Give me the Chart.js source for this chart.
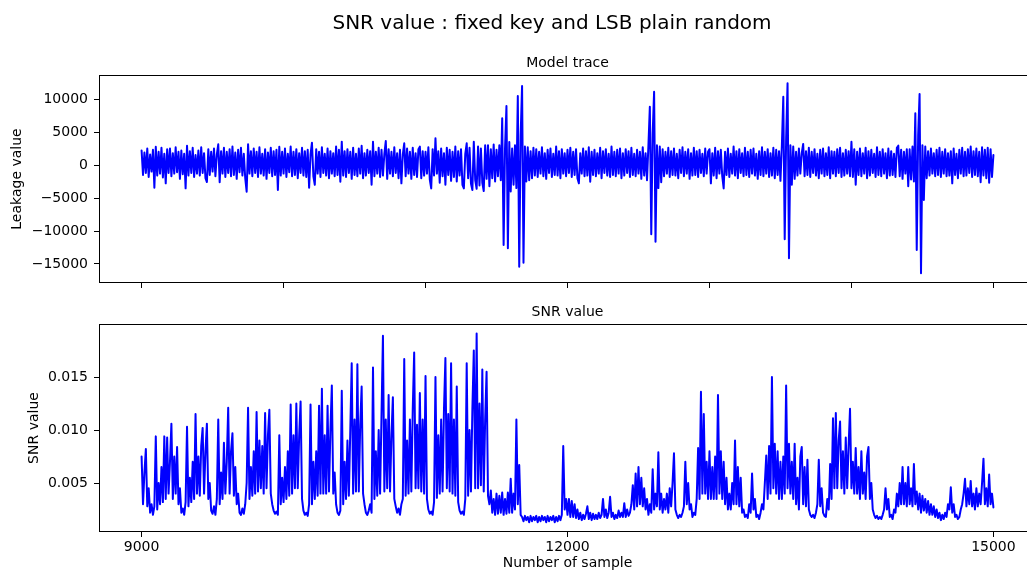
<!DOCTYPE html>
<html>
<head>
<meta charset="utf-8">
<script src="https://cdn.jsdelivr.net/npm/chart.js@4.4.1/dist/chart.umd.min.js"></script>
<style>
  html, body { margin: 0; background: #fff; overflow: hidden; width: 1027px; height: 572px; }
  .panel { position: absolute; left: 0; }
</style>
</head>
<body>
<div class="panel" style="top:0"><canvas id="trace" width="1104" height="300"></canvas></div>
<div class="panel" style="top:300px"><canvas id="snr" width="1104" height="272"></canvas></div>
<script>
// one value every 10 samples, 9000 .. 15000 (rows of 20 = 200 samples)
const sampleAxis = Array.from({ length: 601 }, (_, i) => 9000 + i * 10)

const leakage = [
  2200, -1500, 1900, -1200, 2500, -1800, 1600, -1000, 2300, -3440, 2770, -1600, 2000, -1300, 2600, -1900, 1700, -2780, 2400, -1200,
  2500, -1700, 1800, -1300, 2700, -1100, 2000, -2100, 2200, -1400, 1700, -3540, 2920, -1600, 2100, -1200, 2600, -1800, 1500, -1300,
  2200, -1600, 2700, -1200, 1800, -2000, -2580, 2400, -1500, 2000, -1000, 2500, -1700, 1600, 3130, -2600, 2100, -1300, 2600, -1800,
  2000, -1200, 2400, -1700, 2800, -1500, 1900, -2100, 2300, -1100, 2600, -1600, 1700, -2000, -4040, 3130, -1300, 2100, -1700, 2500,
  -1200, 2000, -1800, 2700, -1300, 1700, -1600, 2400, -2100, 1900, -1200, 2600, -1700, 2100, -1500, 2300, -3790, 2770, -1600, 2000,
  -1300, 2500, -1800, 1700, -1100, 2800, -1700, 2000, -1500, 2400, -2000, 1800, -1200, 2600, -1600, 2100, -1800, 2300, -3440, 1600,
  3380, -1700, -3000, 2400, -1300, 2000, -1800, 2700, -1200, 1700, -1600, 2500, -2000, 2100, -1300, 1800, -1700, 2800, -1500, 2300,
  -2520, 3540, -1600, 2100, -1800, 2400, -1200, 2000, -2100, 2600, -1500, 1700, -1700, 2500, -1300, 2900, -2000, 1800, -1600, 2300,
  -1200, 2100, -3000, 3530, -1700, 2000, -1300, 2600, -1800, 2300, -1600, 1700, 3640, -2100, 2400, -1300, 2000, -1700, 2700, -1200,
  1800, -2000, 2300, -2780, 1600, 3280, -1700, 2500, -1300, 2000, -2100, 2600, -1500, 1800, -1800, 2400, 2780, -2000, 2100, -1600,
  2000, -1300, 2700, -2200, -3540, 2400, -1600, 4040, -1300, 2100, -2700, 2500, -1700, 1800, -3000, 2600, -1500, 2300, -2400, 2000,
  -1800, 2800, -2500, 2100, -1600, 2400, -3000, -3540, 1700, 3280, -2000, 2600, -2800, -3790, 3530, -2300, -3600, 2800, -3100, 2500,
  -2700, -3940, 3000, -2100, 3000, -3200, 2400, -2000, 3100, -2500, 2300, -1700, 3000, -2300, 7070, -12120, 2600, 8940, -12620, 3500,
  -4000, 2500, -3000, 3000, -3500, 10450, -15400, 4500, 11970, -14800, 2800, -2500, 2700, -2300, 2100, -2000, 2600, -1600, 2400, -1800,
  2000, -1300, 2700, -1700, 1800, -2100, 2300, -1200, 2500, -1800, 1700, -1500, 2800, -1600, 2100, -2000, 2400, -1300, 1800, -1700,
  2300, -1200, 2600, -1800, 2000, -1500, 2400, -2000, -2780, 1800, -1300, 2500, -1700, 2100, -1600, 2700, -2530, 2000, -1500, 2300,
  -1700, 1800, -1300, 2600, -2000, 2100, -1200, 2400, -1600, 1700, -1800, 2800, -1500, 2000, -1700, 2300, -1300, 2500, -2000, 1800,
  -1600, 2400, -1200, 2100, -1800, 2600, -1500, 1700, -1700, 2300, -1300, 2000, -2100, 2700, -1600, 1800, -2300, 3000, 8840, -10500,
  4800, 11100, -11620, 3000, -3500, 2800, -2600, 2400, -1700, 2000, -1300, 2600, -1800, 2100, -1500, 2500, -1600, 1700, -2000, 2300,
  -1200, 2700, -1700, 2000, -1300, 2400, -2100, 1800, -1600, 2600, -1500, 2100, -1800, 2300, -1200, 1700, -1700, 2500, -1300, 2000,
  2400, -2780, 1800, -1600, 2600, -2000, 2100, -1300, 2300, -1700, -3540, 2000, -1500, 2500, -1800, 1700, -1300, 2800, -1600, 2100,
  -2000, 2400, -1200, 1800, -1700, 2600, -1500, 2000, -1800, 2300, -1300, 2500, -1600, 1700, -2100, 2100, -1500, 2700, -1700, 2000,
  -1300, 2400, -1800, 1800, -1600, 2600, -2000, 2300, -1500, 2100, -2400, 3000, 10350, -11260, 4000, 12380, -14140, 3000, -3000, 2800,
  -2100, 2000, -1600, 2500, -1300, 1800, 3200, -1700, 2100, -1500, 2600, -1800, 2000, -1200, 2400, -1600, 1700, -2000, 2300, -1300,
  2500, -1700, 1800, -1500, 2700, -2000, 2100, -1300, 2000, -1700, 2400, -1200, 2600, -1800, 1800, -1600, 2300, -1300, 2100, -1700,
  3530, -1800, 2400, -3000, 2000, -1500, 2500, -1700, 1800, -1300, 2600, -2000, 2100, -1600, 2300, -1200, 1700, -1800, 2700, -1500,
  2000, -1700, 2400, -1300, 1800, -2000, 2500, -1600, 2100, -1500, 1700, -1800, 2600, 2930, -1700, 2300, -2100, 2000, -1300, 2400,
  -3200, 2400, -2200, 2800, -2500, 7830, -12880, 4500, 10760, -16400, 3000, -5300, 2800, -2000, 2100, -1600, 2500, -1300, 1800, -1700,
  2300, -1500, 2600, -1800, 2000, -1300, 2400, -1700, 1800, -1600, 2100, -2780, 2500, -1500, 1700, -2000, 2300, -1300, 2600, -1700,
  2000, -1600, 2400, -1200, 2800, -1800, 2100, -1500, 2500, -1700, 2000, -2600, 2700, -1600, 2300, -2000, 2600, -2700, 2400, -1800,
  1500,
]

const snr = [
  0.0075, 0.0030, 0.0060, 0.0082, 0.0028, 0.0045, 0.0022, 0.0030, 0.0020, 0.0028, 0.0094, 0.0025, 0.0050, 0.0030, 0.0065, 0.0032, 0.0094, 0.0035, 0.0093, 0.0040,
  0.0070, 0.0106, 0.0035, 0.0075, 0.0040, 0.0084, 0.0030, 0.0045, 0.0022, 0.0026, 0.0020, 0.0032, 0.0103, 0.0028, 0.0055, 0.0032, 0.0070, 0.0035, 0.0115, 0.0040,
  0.0075, 0.0038, 0.0085, 0.0102, 0.0040, 0.0080, 0.0106, 0.0035, 0.0050, 0.0024, 0.0021, 0.0028, 0.0020, 0.0035, 0.0110, 0.0030, 0.0060, 0.0035, 0.0088, 0.0040,
  0.0070, 0.0121, 0.0040, 0.0080, 0.0097, 0.0038, 0.0065, 0.0030, 0.0040, 0.0022, 0.0020, 0.0026, 0.0021, 0.0030, 0.0050, 0.0121, 0.0035, 0.0065, 0.0038, 0.0080,
  0.0040, 0.0117, 0.0042, 0.0090, 0.0045, 0.0085, 0.0040, 0.0116, 0.0045, 0.0095, 0.0119, 0.0040, 0.0030, 0.0024, 0.0021, 0.0023, 0.0020, 0.0095, 0.0030, 0.0055,
  0.0032, 0.0065, 0.0035, 0.0080, 0.0038, 0.0124, 0.0040, 0.0095, 0.0045, 0.0125, 0.0045, 0.0095, 0.0127, 0.0035, 0.0024, 0.0020, 0.0022, 0.0019, 0.0030, 0.0124,
  0.0030, 0.0070, 0.0035, 0.0080, 0.0038, 0.0123, 0.0040, 0.0139, 0.0040, 0.0095, 0.0040, 0.0123, 0.0042, 0.0100, 0.0142, 0.0040, 0.0060, 0.0030, 0.0022, 0.0020,
  0.0024, 0.0137, 0.0030, 0.0070, 0.0035, 0.0090, 0.0038, 0.0100, 0.0163, 0.0040, 0.0110, 0.0042, 0.0162, 0.0042, 0.0105, 0.0141, 0.0040, 0.0030, 0.0022, 0.0020,
  0.0024, 0.0030, 0.0022, 0.0159, 0.0035, 0.0080, 0.0038, 0.0100, 0.0040, 0.0115, 0.0189, 0.0042, 0.0110, 0.0045, 0.0133, 0.0042, 0.0095, 0.0131, 0.0035, 0.0028,
  0.0022, 0.0026, 0.0020, 0.0030, 0.0035, 0.0167, 0.0038, 0.0090, 0.0040, 0.0110, 0.0042, 0.0120, 0.0173, 0.0045, 0.0105, 0.0045, 0.0135, 0.0042, 0.0110, 0.0040,
  0.0151, 0.0035, 0.0025, 0.0021, 0.0023, 0.0020, 0.0032, 0.0150, 0.0036, 0.0095, 0.0040, 0.0110, 0.0042, 0.0120, 0.0168, 0.0045, 0.0115, 0.0042, 0.0163, 0.0040,
  0.0110, 0.0038, 0.0141, 0.0032, 0.0024, 0.0021, 0.0023, 0.0020, 0.0035, 0.0163, 0.0038, 0.0100, 0.0042, 0.0120, 0.0175, 0.0045, 0.0191, 0.0045, 0.0125, 0.0048,
  0.0157, 0.0042, 0.0110, 0.0155, 0.0038, 0.0030, 0.0043, 0.0022, 0.0035, 0.0020, 0.0040, 0.0021, 0.0038, 0.0022, 0.0041, 0.0020, 0.0035, 0.0021, 0.0041, 0.0022,
  0.0054, 0.0022, 0.0040, 0.0025, 0.0110, 0.0030, 0.0067, 0.0020, 0.0018, 0.0014, 0.0019, 0.0015, 0.0018, 0.0013, 0.0019, 0.0014, 0.0018, 0.0015, 0.0019, 0.0013,
  0.0018, 0.0014, 0.0019, 0.0015, 0.0018, 0.0013, 0.0019, 0.0014, 0.0018, 0.0015, 0.0019, 0.0013, 0.0018, 0.0014, 0.0019, 0.0015, 0.0020, 0.0085, 0.0025, 0.0035,
  0.0020, 0.0035, 0.0018, 0.0033, 0.0018, 0.0030, 0.0017, 0.0025, 0.0016, 0.0022, 0.0015, 0.0020, 0.0016, 0.0021, 0.0028, 0.0016, 0.0022, 0.0015, 0.0021, 0.0016,
  0.0020, 0.0016, 0.0022, 0.0017, 0.0020, 0.0035, 0.0018, 0.0025, 0.0017, 0.0022, 0.0037, 0.0018, 0.0022, 0.0016, 0.0020, 0.0017, 0.0024, 0.0018, 0.0022, 0.0018,
  0.0031, 0.0018, 0.0025, 0.0019, 0.0022, 0.0030, 0.0048, 0.0025, 0.0059, 0.0028, 0.0065, 0.0030, 0.0055, 0.0028, 0.0045, 0.0025, 0.0035, 0.0020, 0.0030, 0.0022,
  0.0063, 0.0025, 0.0040, 0.0028, 0.0079, 0.0025, 0.0040, 0.0022, 0.0035, 0.0025, 0.0040, 0.0022, 0.0045, 0.0028, 0.0050, 0.0078, 0.0025, 0.0020, 0.0017, 0.0020,
  0.0018, 0.0022, 0.0028, 0.0070, 0.0030, 0.0050, 0.0025, 0.0030, 0.0018, 0.0022, 0.0020, 0.0035, 0.0083, 0.0035, 0.0136, 0.0040, 0.0115, 0.0040, 0.0070, 0.0035,
  0.0080, 0.0035, 0.0065, 0.0035, 0.0075, 0.0035, 0.0133, 0.0040, 0.0080, 0.0035, 0.0070, 0.0030, 0.0055, 0.0025, 0.0040, 0.0025, 0.0050, 0.0030, 0.0090, 0.0030,
  0.0065, 0.0028, 0.0055, 0.0022, 0.0025, 0.0018, 0.0020, 0.0017, 0.0030, 0.0022, 0.0059, 0.0025, 0.0035, 0.0018, 0.0020, 0.0016, 0.0022, 0.0030, 0.0025, 0.0050,
  0.0076, 0.0035, 0.0085, 0.0040, 0.0150, 0.0045, 0.0087, 0.0040, 0.0080, 0.0035, 0.0070, 0.0035, 0.0075, 0.0040, 0.0142, 0.0045, 0.0087, 0.0040, 0.0070, 0.0035,
  0.0087, 0.0030, 0.0055, 0.0025, 0.0075, 0.0084, 0.0030, 0.0065, 0.0028, 0.0072, 0.0025, 0.0020, 0.0018, 0.0020, 0.0017, 0.0022, 0.0030, 0.0072, 0.0028, 0.0045,
  0.0022, 0.0019, 0.0018, 0.0035, 0.0025, 0.0068, 0.0035, 0.0111, 0.0045, 0.0116, 0.0045, 0.0090, 0.0108, 0.0045, 0.0080, 0.0040, 0.0093, 0.0045, 0.0085, 0.0120,
  0.0045, 0.0070, 0.0040, 0.0083, 0.0040, 0.0065, 0.0035, 0.0080, 0.0040, 0.0060, 0.0035, 0.0075, 0.0084, 0.0035, 0.0050, 0.0025, 0.0020, 0.0017, 0.0019, 0.0016,
  0.0018, 0.0016, 0.0020, 0.0025, 0.0045, 0.0025, 0.0035, 0.0018, 0.0020, 0.0016, 0.0025, 0.0022, 0.0040, 0.0028, 0.0050, 0.0030, 0.0065, 0.0030, 0.0050, 0.0028,
  0.0065, 0.0030, 0.0045, 0.0028, 0.0068, 0.0030, 0.0042, 0.0025, 0.0040, 0.0022, 0.0038, 0.0024, 0.0035, 0.0022, 0.0033, 0.0020, 0.0030, 0.0020, 0.0028, 0.0018,
  0.0025, 0.0017, 0.0022, 0.0015, 0.0020, 0.0016, 0.0022, 0.0018, 0.0030, 0.0025, 0.0046, 0.0022, 0.0030, 0.0018, 0.0020, 0.0016, 0.0018, 0.0025, 0.0030, 0.0040,
  0.0054, 0.0028, 0.0045, 0.0030, 0.0052, 0.0028, 0.0040, 0.0025, 0.0045, 0.0028, 0.0040, 0.0030, 0.0050, 0.0073, 0.0030, 0.0045, 0.0028, 0.0058, 0.0030, 0.0040,
  0.0027,
]

const traceXTicks = [9000, 10000, 11000, 12000, 13000, 14000, 15000]
const snrXTicks = [9000, 12000, 15000]
const traceYTicks = [-15000, -10000, -5000, 0, 5000, 10000]
const snrYTicks = [0.005, 0.010, 0.015]

const family = 'DejaVu Sans'
const font = { family, size: 14 }

// matplotlib-style box around the axes and the text above it
const panelTitles = {
  id: 'panelTitles',
  afterDraw (chart, _args, opts) {
    const { ctx, chartArea: a } = chart
    ctx.save()
    ctx.strokeStyle = '#000'
    ctx.lineWidth = 1
    ctx.strokeRect(a.left + 0.5, a.top + 0.5, a.right - a.left, a.bottom - a.top - 1)
    ctx.fillStyle = '#000'
    ctx.textAlign = 'center'
    ctx.textBaseline = 'alphabetic'
    if (opts.figureTitle) {
      ctx.font = `20px "${family}"`
      ctx.fillText(opts.figureTitle, chart.width / 2, opts.figureTitleY)
    }
    ctx.font = `14px "${family}"`
    ctx.fillText(opts.text, (a.left + a.right) / 2, a.top - 8.3)
    ctx.restore()
  },
}

function xScale (ticks, labels, height) {
  return {
    type: 'linear',
    min: 8700,
    max: 15300,
    afterBuildTicks: (s) => { s.ticks = ticks.map(value => ({ value })) },
    afterFit: (s) => { s.height = height },
    grid: { drawOnChartArea: false, drawTicks: true, tickLength: 5, color: '#000' },
    border: { display: false },
    ticks: { display: labels, font, color: '#000', padding: 2, maxRotation: 0, autoSkip: false, callback: v => String(v) },
    title: { display: labels, text: 'Number of sample', font, color: '#000', padding: { top: 0, bottom: 0 } },
  }
}

function yScale (min, max, ticks, fmt, title, titlePad) {
  return {
    min,
    max,
    afterBuildTicks: (s) => { s.ticks = ticks.map(value => ({ value })) },
    afterFit: (s) => { s.width = 99 },
    grid: { drawOnChartArea: false, drawTicks: true, tickLength: 5, color: '#000' },
    border: { display: false },
    ticks: { font, color: '#000', padding: 6, autoSkip: false, callback: fmt },
    title: { display: true, text: title, font, color: '#000', padding: { top: titlePad, bottom: 0 } },
  }
}

function lineSet (values) {
  return {
    data: values.map((y, i) => ({ x: sampleAxis[i], y })),
    borderColor: '#0000ff',
    borderWidth: 2,
    borderJoinStyle: 'round',
    borderCapStyle: 'round',
    pointRadius: 0,
    tension: 0,
    fill: false,
  }
}

const common = {
  responsive: false,
  animation: false,
  events: [],
}

/* eslint-disable no-new */
new Chart(document.getElementById('trace').getContext('2d'), {
  type: 'line',
  data: { datasets: [lineSet(leakage)] },
  plugins: [panelTitles],
  options: {
    ...common,
    layout: { padding: { top: 75, right: 68, left: 0, bottom: 0 } },
    scales: {
      x: xScale(traceXTicks, false, 17),
      y: yScale(-17880, 13640, traceYTicks, v => (v < 0 ? '\u2212' + Math.abs(v) : String(v)), 'Leakage value', 9.3),
    },
    plugins: {
      legend: { display: false },
      tooltip: { enabled: false },
      panelTitles: { text: 'Model trace', figureTitle: 'SNR value : fixed key and LSB plain random', figureTitleY: 29 },
    },
  },
})

new Chart(document.getElementById('snr').getContext('2d'), {
  type: 'line',
  data: { datasets: [lineSet(snr)] },
  plugins: [panelTitles],
  options: {
    ...common,
    layout: { padding: { top: 24, right: 68, left: 0, bottom: 0 } },
    scales: {
      x: xScale(snrXTicks, true, 40),
      y: yScale(0.00038, 0.0200, snrYTicks, v => v.toFixed(3), 'SNR value', 26),
    },
    plugins: {
      legend: { display: false },
      tooltip: { enabled: false },
      panelTitles: { text: 'SNR value' },
    },
  },
})
</script>
</body>
</html>
